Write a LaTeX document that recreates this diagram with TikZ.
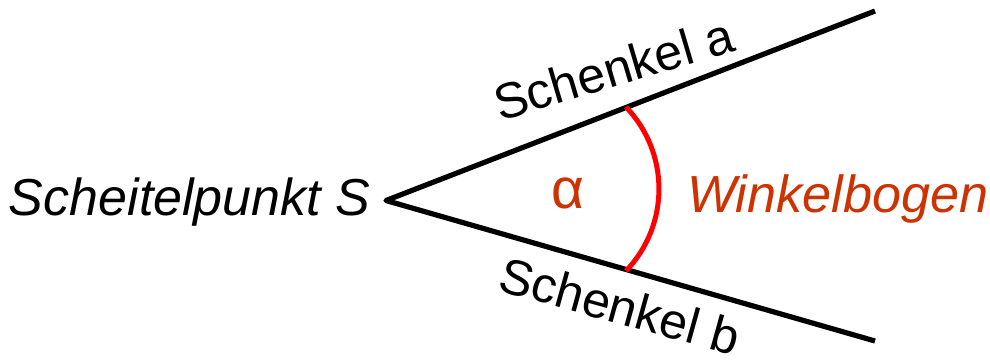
\documentclass[tikz,border=0pt]{standalone}
\usepackage{fontspec}
\setmainfont{Liberation Sans}
\definecolor{orng}{RGB}{204,51,0}
\definecolor{arcred}{RGB}{255,0,0}
\tikzset{
  lbl/.style={inner sep=0pt, outer sep=0pt, font=\fontsize{50}{60}\selectfont},
  schenkel/.style={line width=5.2pt, black, line join=round, line cap=butt},
  bogen/.style={line width=5pt, arcred, line cap=butt},
}
\begin{document}
\begin{tikzpicture}[x=1pt,y=-1pt]
\useasboundingbox (0,0) rectangle (990,359);
\coordinate (S) at (386,200.5);
\coordinate (EA) at (875,11);
\coordinate (EB) at (875,341);
\draw[schenkel] (EA) -- (S) -- (EB);
\coordinate (BA) at (626,107);
\draw[bogen] (BA) arc[start angle=-43.8, end angle=43.8, radius=118.4];
\node[lbl, font=\fontsize{52}{60}\selectfont\itshape, anchor=base west] (sp) at (9,215) {Scheitelpunkt S};
\node[lbl, font=\fontsize{57}{60}\selectfont, text=orng, anchor=base] (al) at (568,208) {α};
\node[lbl, font=\fontsize{52.2}{60}\selectfont\itshape, text=orng, anchor=base west] (wb) at (687,212) {Winkelbogen};
\node[lbl, rotate=16.5, anchor=base west] (sa) at (500,121) {Schenkel a};
\node[lbl, rotate=-15.5, anchor=base west] (sb) at (496,290) {Schenkel b};
\end{tikzpicture}
\end{document}
